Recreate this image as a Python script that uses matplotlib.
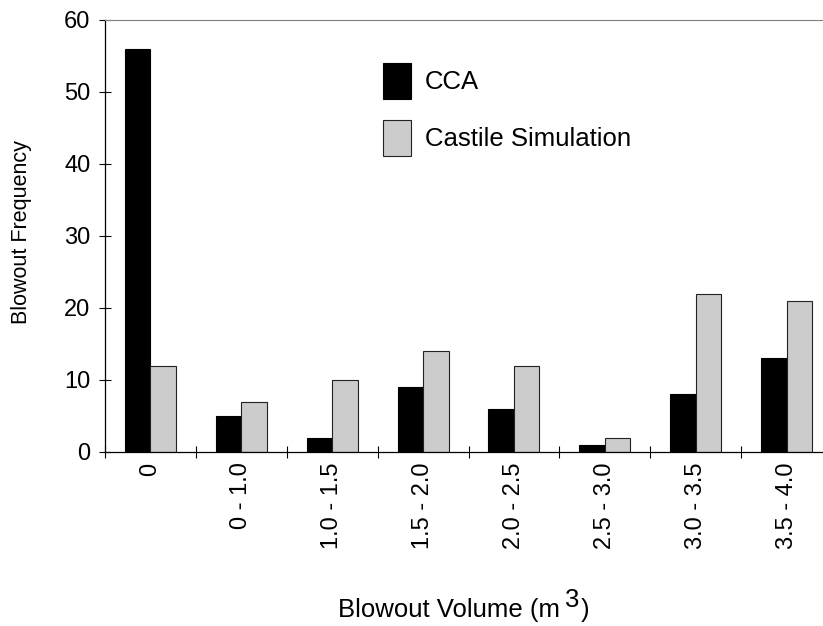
import numpy as np
import matplotlib
matplotlib.use("Agg")
import matplotlib.pyplot as plt

plt.rcParams['font.family'] = ['Liberation Sans', 'DejaVu Sans']

categories = ['0', '0 - 1.0', '1.0 - 1.5', '1.5 - 2.0', '2.0 - 2.5',
              '2.5 - 3.0', '3.0 - 3.5', '3.5 - 4.0']
cca = [56, 5, 2, 9, 6, 1, 8, 13]
castile = [12, 7, 10, 14, 12, 2, 22, 21]

W, H = 823, 626
fig = plt.figure(figsize=(W / 100, H / 100), dpi=100)
ax = fig.add_axes([105 / W, 1 - 452 / H, 727 / W, 432 / H])

x = np.arange(len(categories))
w = 0.28
ax.bar(x - w / 2, cca, w, color='black', edgecolor='black', linewidth=0.8,
       label='CCA')
ax.bar(x + w / 2, castile, w, color='#cccccc', edgecolor='#222222',
       linewidth=0.8, label='Castile Simulation')

ax.set_xlim(-0.5, len(categories) - 0.5)
ax.set_ylim(0, 60)
ax.set_yticks(np.arange(0, 61, 10))

# ticks at category boundaries, labels at centres
ax.set_xticks(np.arange(len(categories)) - 0.5)
ax.set_xticklabels([])
ax.set_xticks(x, minor=True)
ax.set_xticklabels(categories, minor=True, rotation=90, fontsize=17)
ax.tick_params(axis='x', which='minor', length=0, pad=7.5)
ax.tick_params(axis='x', which='major', direction='inout', length=9,
               width=0.8)
ax.tick_params(axis='y', direction='inout', length=9, width=0.8,
               labelsize=17, pad=6)

ax.spines['right'].set_visible(False)
ax.spines['top'].set_color('#808080')
ax.spines['left'].set_linewidth(0.9)
ax.spines['bottom'].set_linewidth(0.9)

fig.text(22 / W, 1 - 232 / H, 'Blowout Frequency', fontsize=15.5,
         rotation=90, ha='center', va='center')

# x label with a full-size raised "3"
fs = 18.5
t1 = fig.text(338 / W, 1 - 617 / H, 'Blowout Volume (m', fontsize=fs,
              ha='left', va='baseline')
r = fig.canvas.get_renderer()
x_end = t1.get_window_extent(r).x1
t2 = fig.text((x_end + 5) / W, 1 - 607 / H, '3', fontsize=fs,
              ha='left', va='baseline')
x_end = t2.get_window_extent(r).x1
fig.text((x_end + 1) / W, 1 - 617 / H, ')', fontsize=fs,
         ha='left', va='baseline')

ax.legend(loc='upper left', bbox_to_anchor=((383 - 105) / 727, (452 - 63) / 432),
          frameon=False, fontsize=18.5, handlelength=1.09, handleheight=1.8,
          labelspacing=0.8, handletextpad=0.55, borderpad=0, borderaxespad=0)

fig.savefig('out.png', dpi=100)
